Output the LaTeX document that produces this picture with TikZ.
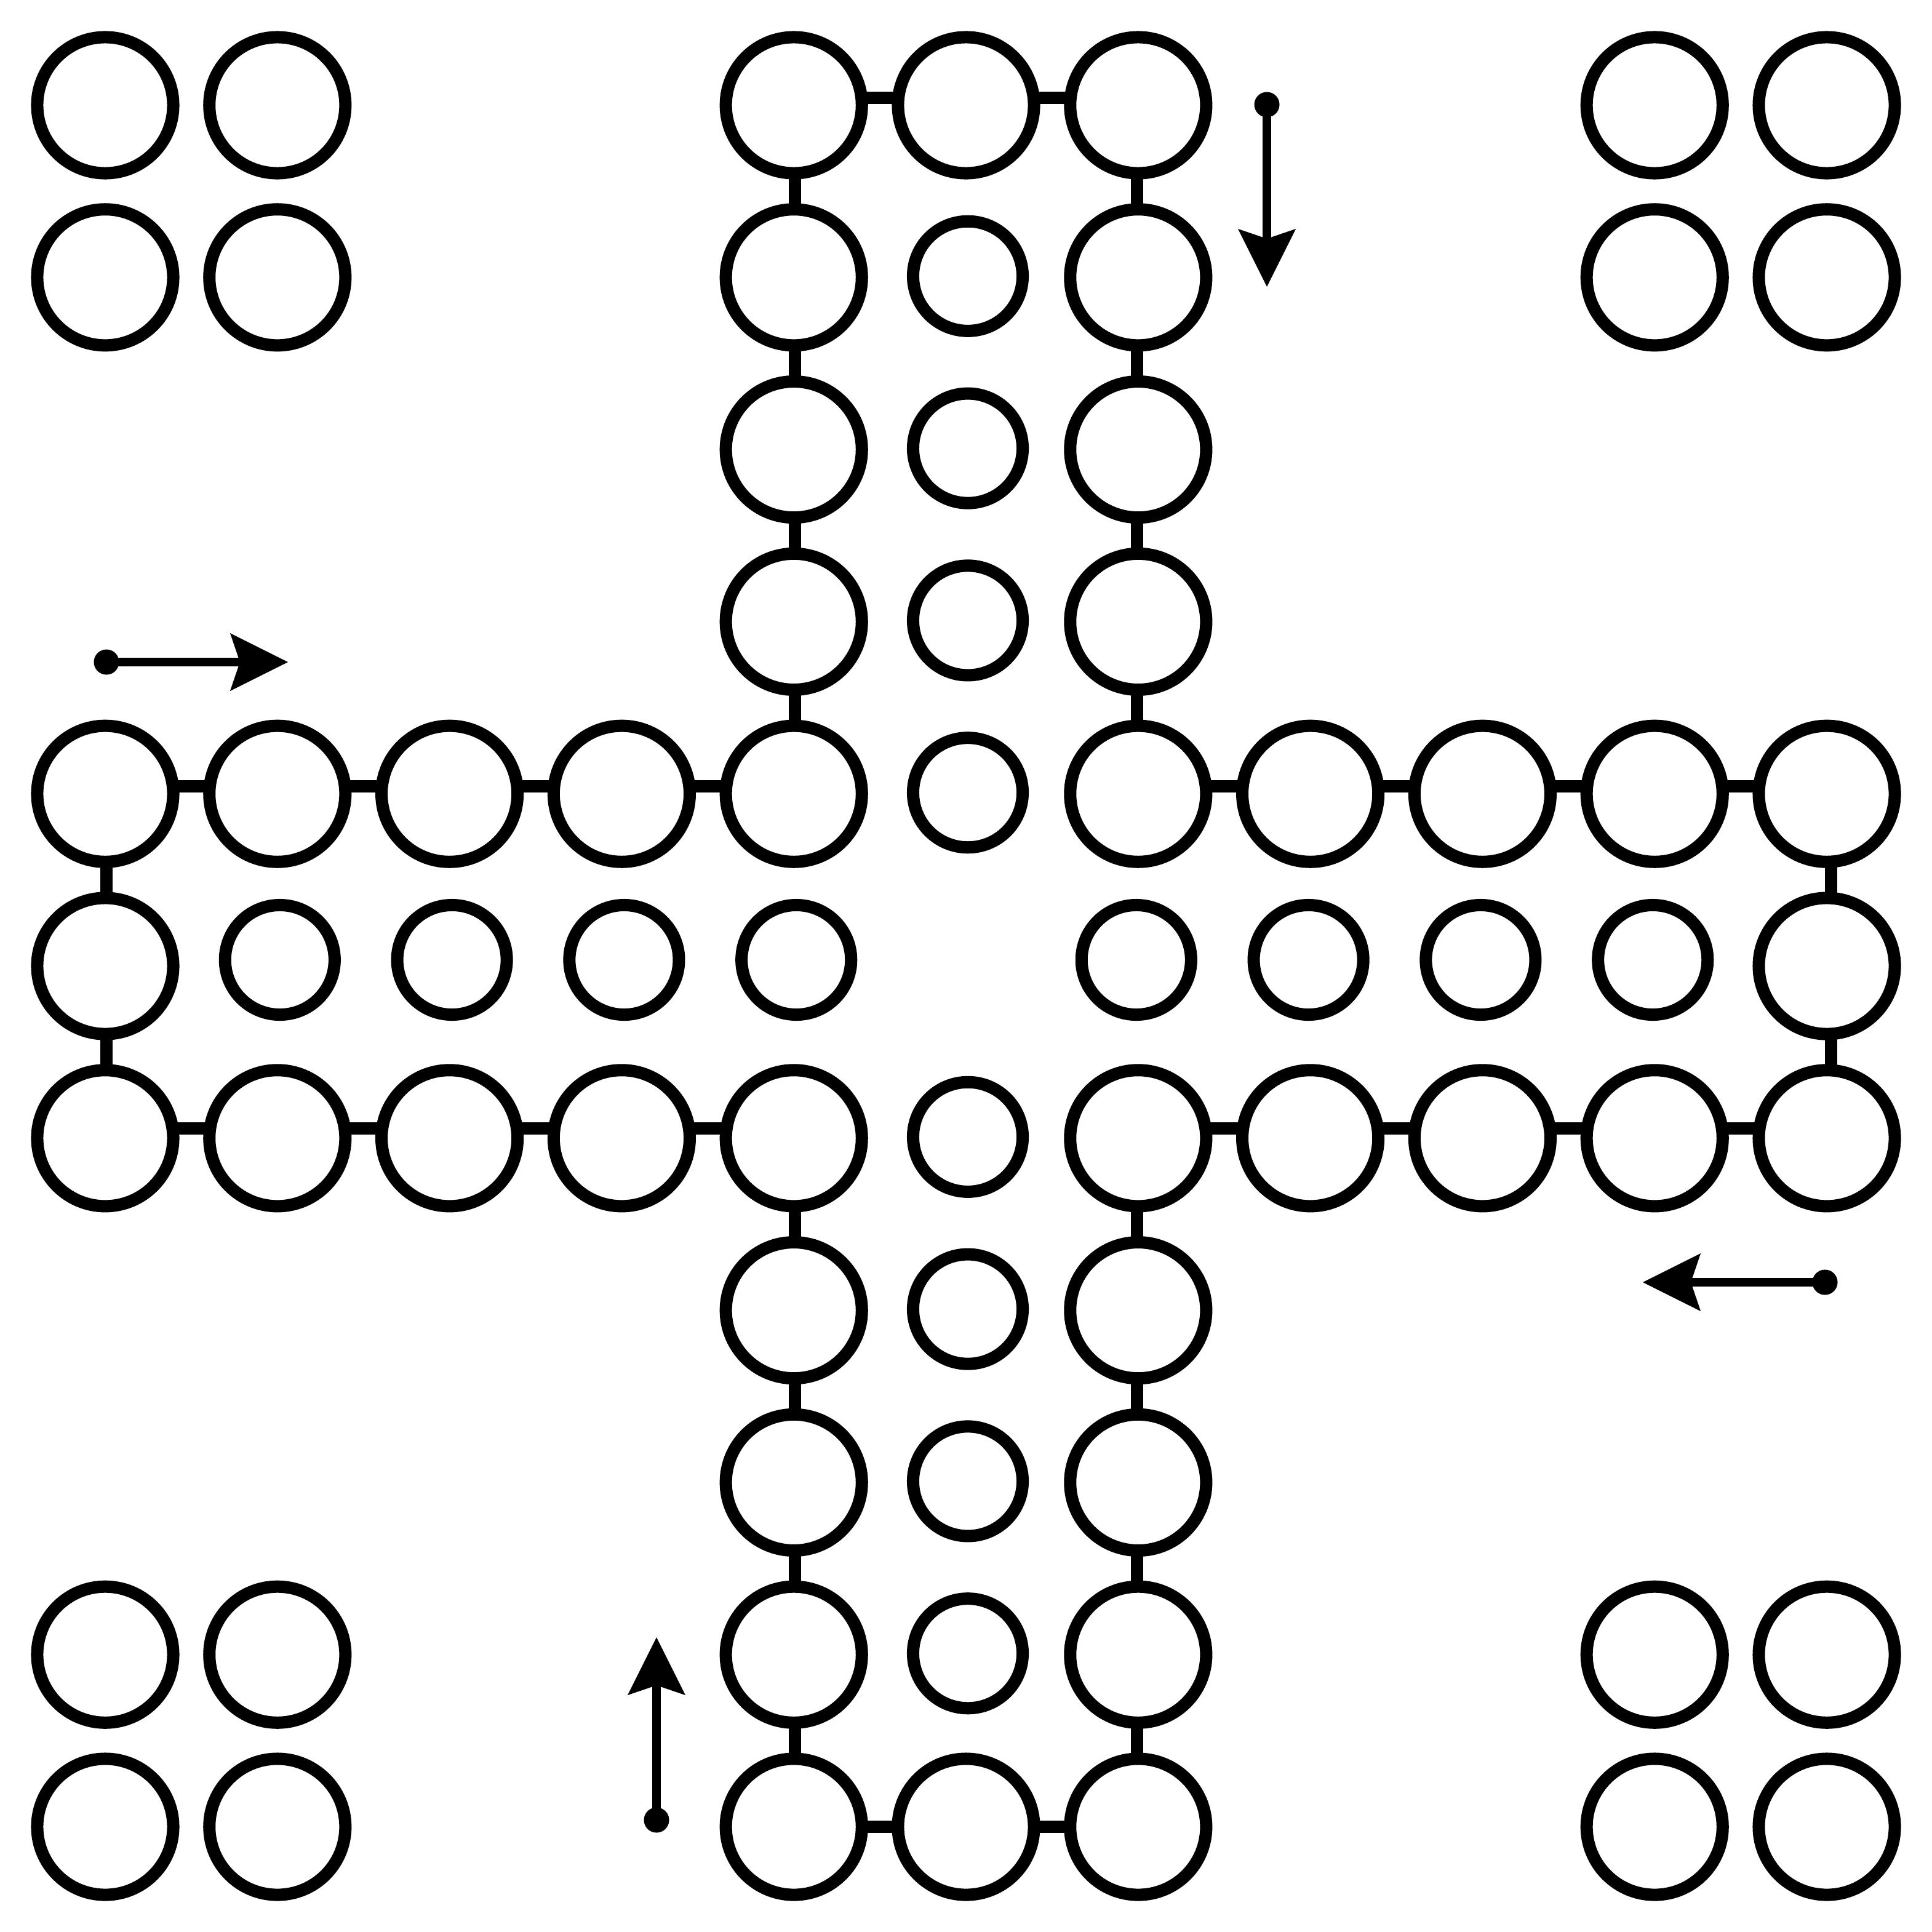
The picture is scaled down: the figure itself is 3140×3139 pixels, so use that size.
\documentclass[tikz,border=0pt]{standalone}
\usetikzlibrary{arrows.meta,calc}
\begin{document}
\begin{tikzpicture}[x=0.01cm,y=-0.01cm,
  big/.style={circle,draw=black,line width=0.2cm,minimum size=2.21cm,inner sep=0pt,outer sep=0pt},
  small/.style={circle,draw=black,line width=0.2cm,minimum size=1.78cm,inner sep=0pt,outer sep=0pt},
  conn/.style={line width=0.2cm,draw=black},
  dotnode/.style={circle,fill=black,minimum size=0.41cm,inner sep=0pt,outer sep=0pt},
  arr/.style={line width=0.14cm,-{Stealth[length=0.94cm,width=0.94cm,inset=0.16cm,line width=0pt]}}]
\fill[white] (0,0) rectangle (3140,3139);
\useasboundingbox (0,0) rectangle (3140,3139);
% big circles
\foreach \i/\j in {0/0,1/0,0/1,1/1, 9/0,10/0,9/1,10/1, 0/9,1/9,0/10,1/10, 9/9,10/9,9/10,10/10,
  4/0,5/0,6/0, 4/1,4/2,4/3, 6/1,6/2,6/3,
  0/4,1/4,2/4,3/4,4/4,6/4,7/4,8/4,9/4,10/4,
  0/5,10/5,
  0/6,1/6,2/6,3/6,4/6,6/6,7/6,8/6,9/6,10/6,
  4/7,4/8,4/9,6/7,6/8,6/9, 4/10,5/10,6/10}
  \node[big] (n\i-\j) at ({171+279.8*\i},{171+279.8*\j}) {};
% small circles, middle column
\foreach \j in {1,2,3,4,6,7,8,9}
  \node[small] (s5-\j) at (1573,{169+279.8*\j}) {};
% small circles, middle row
\foreach \i in {1,2,3,4}
  \node[small] (s\i-5) at ({175+279.8*\i},1560) {};
\foreach \i in {6,7,8,9}
  \node[small] (s\i-5) at ({168+279.8*\i},1560) {};
% horizontal connectors
\foreach \a/\b/\r/\d in {4/5/0/-12,5/6/0/-12,
  0/1/4/-12,1/2/4/-12,2/3/4/-12,3/4/4/-12,6/7/4/-12,7/8/4/-12,8/9/4/-12,9/10/4/-12,
  0/1/6/-16,1/2/6/-16,2/3/6/-16,3/4/6/-16,6/7/6/-16,7/8/6/-16,8/9/6/-16,9/10/6/-16,
  4/5/10/0,5/6/10/0}
  \draw[conn] ($(n\a-\r.east)+(0,\d)$) -- ($(n\b-\r.west)+(0,\d)$);
% vertical connectors
\foreach \a/\b/\c/\d in {0/1/4/2,1/2/4/2,2/3/4/2,3/4/4/2,6/7/4/2,7/8/4/2,8/9/4/2,9/10/4/2,
  0/1/6/-2,1/2/6/-2,2/3/6/-2,3/4/6/-2,6/7/6/-2,7/8/6/-2,8/9/6/-2,9/10/6/-2,
  4/5/0/2,5/6/0/2,4/5/10/7,5/6/10/7}
  \draw[conn] ($(n\c-\a.south)+(\d,0)$) -- ($(n\c-\b.north)+(\d,0)$);
% start arrows
\node[dotnode] (dL) at (173,1076) {};
\coordinate (tL) at (468,1076);
\draw[arr] (dL.center) -- (tL);
\node[dotnode] (dT) at (2059,170) {};
\coordinate (tT) at (2059,466);
\draw[arr] (dT.center) -- (tT);
\node[dotnode] (dR) at (2966,2084) {};
\coordinate (tR) at (2670,2084);
\draw[arr] (dR.center) -- (tR);
\node[dotnode] (dB) at (1067,2958) {};
\coordinate (tB) at (1067,2661);
\draw[arr] (dB.center) -- (tB);
\end{tikzpicture}
\end{document}
